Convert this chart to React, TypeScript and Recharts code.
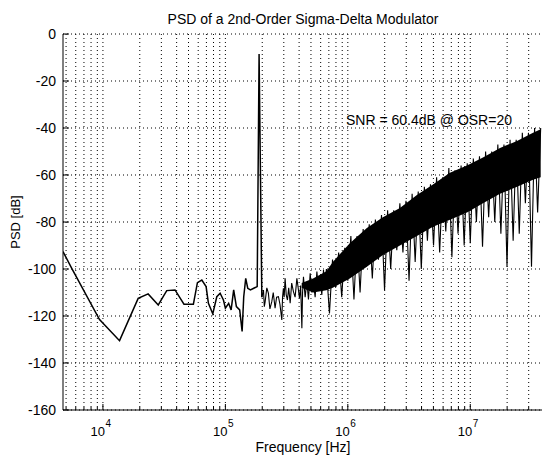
import React from 'react';
import { ComposedChart, Line, Area, XAxis, YAxis, CartesianGrid } from 'recharts';

// ---- data ----
const lowFreq = [4720, 5550, 9380, 13670, 19400, 23400, 28300, 33200, 38800, 45900, 54800, 59100, 64200, 69600, 72700, 78900, 85100, 90600, 96400, 100000, 106400, 111400, 116900, 123000, 130900, 137000, 141200, 146600, 152300, 160200, 170500, 181900];
const lowPsd = [-92.6, -99.6, -121.5, -130.5, -112.5, -110.6, -115.3, -109.2, -108.9, -115, -115, -105.8, -104.7, -107.5, -114.6, -119.1, -111.8, -110.3, -113.2, -116.7, -114.6, -117.4, -108.9, -116, -117.4, -126.6, -111.8, -104, -108.2, -108.9, -108.2, -107.5];

const toneFreq = [188500, 198500];
const tonePsd = [-8.5, -112];

const postFreq = [204700, 208000, 211300, 218000, 224500, 231000, 239300, 246000, 254600, 262000, 271200, 279000, 289000, 293000, 297800, 302000, 307500, 314000, 321300, 329000, 338100, 348000, 359600, 371000, 383600, 393000, 402900, 412000, 421400, 427000, 434300, 448000, 463000, 477000, 492600, 508000, 524200, 541000, 558800, 576000, 594700, 613000, 632900, 650000];
const postPsd = [-109, -116, -113.9, -108, -110.3, -117, -113.9, -110, -116.7, -112, -111.8, -115, -121.7, -112, -108.2, -112, -104, -111, -113.2, -108, -114.6, -106, -109.6, -112, -104, -108, -112.5, -107, -125.2, -110, -103.3, -112, -105.4, -113, -101.8, -110, -106.1, -112, -101.1, -109, -103.3, -111, -100.4, -108];

const noiseFreq = [668300, 707900, 749900, 794300, 841400, 891300, 944100, 1000000, 1059000, 1122000, 1189000, 1259000, 1334000, 1413000, 1496000, 1585000, 1679000, 1778000, 1884000, 1995000, 2113000, 2239000, 2371000, 2512000, 2661000, 2818000, 2985000, 3162000, 3350000, 3548000, 3758000, 3981000, 4217000, 4467000, 4732000, 5012000, 5309000, 5623000, 5957000, 6310000, 6683000, 7079000, 7499000, 7943000, 8414000, 8913000, 9441000, 10000000, 10590000, 11220000, 11890000, 12590000, 13340000, 14130000, 14960000, 15850000, 16790000, 17780000, 18840000, 19950000, 21130000, 22390000, 23710000, 25120000, 26610000, 28180000, 29850000, 31620000, 33500000, 35480000, 37580000];
const noisePsd = [-100, -118.9, -96, -108, -93, -112, -91, -105, -86, -113, -86, -110, -83, -99, -81, -104, -79, -96, -77, -109, -75, -100, -75, -92, -72, -93, -71, -105, -68, -97, -67, -100, -65, -88, -64, -90, -61, -93, -61, -84, -57, -95, -58, -85, -56, -90, -55, -89, -53, -80, -52, -90.5, -50, -78, -50, -80, -47, -85, -47, -99, -45, -88, -45, -85, -42, -72, -42, -99, -40, -76, -40];

const bandFreq = [420000, 520000, 668300, 754000, 1038000, 1430000, 1933000, 2663000, 3667000, 4955000, 6823000, 9397000, 12700000, 17490000, 24090000, 32550000, 37580000];
const bandLow = [-108, -110, -109, -108, -104, -99, -94, -90, -86, -82, -79, -76, -72, -68, -65, -62, -61];
const bandHigh = [-106, -104, -101, -97, -89, -82.5, -78, -74, -68.5, -64, -59, -56, -52.5, -48.5, -45.5, -42, -40.5];

const xMajor = [10000, 100000, 1000000, 10000000];
const xTicks = [5000, 6000, 7000, 8000, 9000, 10000, 20000, 30000, 40000, 50000, 60000, 70000, 80000, 90000, 100000, 200000, 300000, 400000, 500000, 600000, 700000, 800000, 900000, 1000000, 2000000, 3000000, 4000000, 5000000, 6000000, 7000000, 8000000, 9000000, 10000000, 20000000, 30000000];
const yTicks = [0, -20, -40, -60, -80, -100, -120, -140, -160];

const FONT = '"Liberation Sans", Arial, Helvetica, sans-serif';

const XTickBottom = (props: any) => {
  const { x, y, payload } = props;
  const v = payload.value;
  const major = xMajor.includes(v);
  const len = major ? 6 : 3;
  const exp = Math.round(Math.log10(v));
  return (
    <g>
      <line x1={x} x2={x} y1={y} y2={y - len} stroke="#000" strokeWidth={1} />
      {major && (
        <g fontFamily={FONT} fill="#000">
          <text x={x + 2} y={y + 26} textAnchor="end" fontSize={13}>10</text>
          <text x={x + 2.5} y={y + 17} textAnchor="start" fontSize={10}>{exp}</text>
        </g>
      )}
    </g>
  );
};

const XTickTop = (props: any) => {
  const { x, y, payload } = props;
  const major = xMajor.includes(payload.value);
  const len = major ? 6 : 3;
  return <line x1={x} x2={x} y1={y} y2={y + len} stroke="#000" strokeWidth={1} />;
};

const YTickLeft = (props: any) => {
  const { x, y, payload } = props;
  return (
    <g>
      <line x1={x} x2={x + 6} y1={y} y2={y} stroke="#000" strokeWidth={1} />
      <text x={x - 7} y={y + 5} textAnchor="end" fontSize={14} fontFamily={FONT} fill="#000">
        {String(payload.value)}
      </text>
    </g>
  );
};

const YTickRight = (props: any) => {
  const { x, y } = props;
  return <line x1={x} x2={x - 6} y1={y} y2={y} stroke="#000" strokeWidth={1} />;
};

export default function App() {
  const lineLow = [
    ...lowFreq.map((f, i) => ({ f, v: lowPsd[i] })),
    ...toneFreq.map((f, i) => ({ f, v: tonePsd[i] })),
  ];
  const lineHigh = [
    { f: toneFreq[toneFreq.length - 1], v: tonePsd[tonePsd.length - 1] },
    ...postFreq.map((f, i) => ({ f, v: postPsd[i] })),
    ...noiseFreq.map((f, i) => ({ f, v: noisePsd[i] })),
  ];
  const band = bandFreq.map((f, i) => ({ f, r: [bandLow[i], bandHigh[i]] }));

  return (
    <div style={{ position: 'absolute', left: 0, top: 0, width: 542, height: 455, overflow: 'hidden', background: '#fff' }}>
      <ComposedChart width={546} height={455} margin={{ top: 34, right: 2, bottom: 0, left: 13 }}>
        <CartesianGrid stroke="#000" strokeDasharray="1 3" verticalValues={xTicks} horizontalValues={yTicks} />
        <XAxis
          dataKey="f"
          type="number"
          scale="log"
          domain={[4720, 40000000]}
          allowDataOverflow
          ticks={xTicks}
          interval={0}
          tick={<XTickBottom />}
          tickLine={false}
          tickSize={0}
          tickMargin={0}
          height={45}
          stroke="#000"
        />
        <XAxis
          xAxisId="top"
          orientation="top"
          dataKey="f"
          type="number"
          scale="log"
          domain={[4720, 40000000]}
          allowDataOverflow
          ticks={xTicks}
          interval={0}
          tick={<XTickTop />}
          tickLine={false}
          tickSize={0}
          tickMargin={0}
          height={0}
          stroke="#000"
        />
        <YAxis
          type="number"
          domain={[-160, 0]}
          ticks={yTicks}
          interval={0}
          allowDataOverflow
          tick={<YTickLeft />}
          tickLine={false}
          tickSize={0}
          tickMargin={0}
          width={50}
          stroke="#000"
        />
        <YAxis
          yAxisId="right"
          orientation="right"
          type="number"
          domain={[-160, 0]}
          ticks={yTicks}
          interval={0}
          tick={<YTickRight />}
          tickLine={false}
          tickSize={0}
          tickMargin={0}
          width={0}
          stroke="#000"
        />
        <Area data={band} dataKey="r" type="linear" stroke="none" fill="#000" fillOpacity={1} isAnimationActive={false} />
        <Line data={lineLow} dataKey="v" type="linear" stroke="#000" strokeWidth={1.5} dot={false} isAnimationActive={false} />
        <Line data={lineHigh} dataKey="v" type="linear" stroke="#000" strokeWidth={1.1} dot={false} isAnimationActive={false} />
      </ComposedChart>
      <svg width={542} height={455} style={{ position: 'absolute', left: 0, top: 0, pointerEvents: 'none' }} fontFamily={FONT} fill="#000">
        <text x={303} y={24} textAnchor="middle" fontSize={14}>PSD of a 2nd-Order Sigma-Delta Modulator</text>
        <text x={303} y={452} textAnchor="middle" fontSize={14}>Frequency [Hz]</text>
        <text x={20} y={222} textAnchor="middle" fontSize={13} transform="rotate(-90 20 222)">PSD [dB]</text>
        <text x={346} y={125} textAnchor="start" fontSize={14}>SNR = 60.4dB @ OSR=20</text>
      </svg>
    </div>
  );
}
